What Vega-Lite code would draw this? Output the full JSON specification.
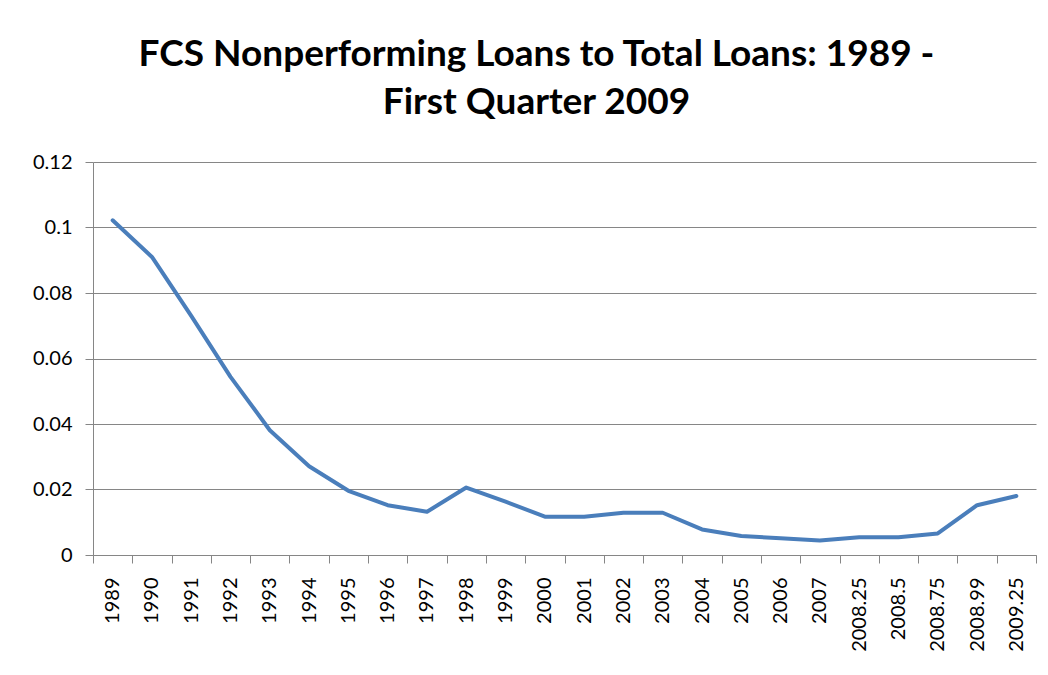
{
  "$schema": "https://vega.github.io/schema/vega-lite/v6.json",
  "width": 943,
  "height": 393,
  "autosize": "none",
  "padding": {"left": 93, "top": 162, "right": 12, "bottom": 120},
  "background": "white",
  "title": {
    "text": ["FCS Nonperforming Loans to Total Loans: 1989 -", "First Quarter 2009"],
    "font": "Lato",
    "fontSize": 37,
    "fontWeight": "bold",
    "color": "#000000",
    "lineHeight": 48,
    "anchor": "middle",
    "frame": "group",
    "dx": -28,
    "offset": 30
  },
  "data": {
    "values": [
      {"period": "1989", "ratio": 0.1022},
      {"period": "1990", "ratio": 0.0910},
      {"period": "1991", "ratio": 0.0730},
      {"period": "1992", "ratio": 0.0544},
      {"period": "1993", "ratio": 0.0381},
      {"period": "1994", "ratio": 0.0271},
      {"period": "1995", "ratio": 0.0196},
      {"period": "1996", "ratio": 0.0152},
      {"period": "1997", "ratio": 0.0132},
      {"period": "1998", "ratio": 0.0206},
      {"period": "1999", "ratio": 0.0163},
      {"period": "2000", "ratio": 0.0117},
      {"period": "2001", "ratio": 0.0117},
      {"period": "2002", "ratio": 0.0129},
      {"period": "2003", "ratio": 0.0129},
      {"period": "2004", "ratio": 0.0078},
      {"period": "2005", "ratio": 0.0058},
      {"period": "2006", "ratio": 0.0051},
      {"period": "2007", "ratio": 0.0044},
      {"period": "2008.25", "ratio": 0.0054},
      {"period": "2008.5", "ratio": 0.0054},
      {"period": "2008.75", "ratio": 0.0066},
      {"period": "2008.99", "ratio": 0.0152},
      {"period": "2009.25", "ratio": 0.0180}
    ]
  },
  "mark": {"type": "line", "color": "#4A7EBB", "strokeWidth": 4, "strokeCap": "round", "strokeJoin": "round"},
  "encoding": {
    "x": {
      "field": "period",
      "type": "ordinal",
      "sort": null,
      "scale": {"type": "band", "paddingInner": 0, "paddingOuter": 0},
      "axis": {
        "title": null,
        "labelAngle": -90,
        "labelAlign": "right",
        "labelBaseline": "middle",
        "labelFont": "Lato",
        "labelFontSize": 20,
        "labelColor": "#000000",
        "labelPadding": 14,
        "tickBand": "extent",
        "tickSize": 8,
        "tickColor": "#868686",
        "domainColor": "#868686",
        "grid": false
      }
    },
    "y": {
      "field": "ratio",
      "type": "quantitative",
      "scale": {"domain": [0, 0.12], "nice": false},
      "axis": {
        "title": null,
        "values": [0, 0.02, 0.04, 0.06, 0.08, 0.1, 0.12],
        "labelExpr": "datum.value == 0 ? '0' : format(datum.value, '.2~f')",
        "labelFont": "Lato",
        "labelFontSize": 20,
        "labelColor": "#000000",
        "labelPadding": 13,
        "tickSize": 8,
        "tickColor": "#868686",
        "domainColor": "#868686",
        "gridColor": "#868686",
        "gridWidth": 1
      }
    }
  },
  "config": {
    "view": {"stroke": null}
  }
}
